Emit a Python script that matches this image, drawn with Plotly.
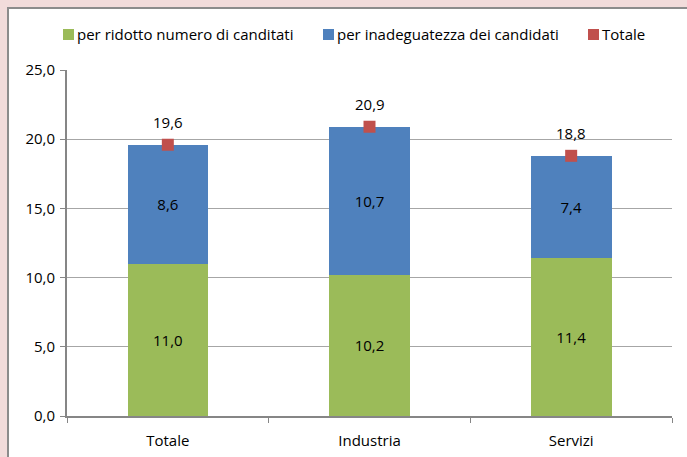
import plotly.graph_objects as go

categories = ["Totale", "Industria", "Servizi"]
ridotto_numero = [11.0, 10.2, 11.4]
inadeguatezza = [8.6, 10.7, 7.4]
totale = [19.6, 20.9, 18.8]

legend_names = ["per ridotto numero di canditati", "per inadeguatezza dei candidati", "Totale"]
colors = ["#9BBB59", "#4F81BD", "#C0504D"]
y_ticks = [0, 5, 10, 15, 20, 25]

FONT = "Open Sans"
FS = 15
W, H = 687, 457
ML, MR, MT, MB = 67, 15, 70, 41
PW, PH = W - ML - MR, H - MT - MB


def px_x(px):
    return (px - ML) / PW


def px_y(py):
    return (H - MB - py) / PH


fig = go.Figure()

fig.add_trace(go.Bar(
    x=categories, y=ridotto_numero, name=legend_names[0],
    marker=dict(color=colors[0], line=dict(width=0)),
    texttemplate="%{y:.1f}", textposition="inside", insidetextanchor="middle",
    textfont=dict(family=FONT, size=FS, color="#000000"),
    width=0.4, showlegend=False,
))
fig.add_trace(go.Bar(
    x=categories, y=inadeguatezza, name=legend_names[1],
    marker=dict(color=colors[1], line=dict(width=0)),
    texttemplate="%{y:.1f}", textposition="inside", insidetextanchor="middle",
    textfont=dict(family=FONT, size=FS, color="#000000"),
    width=0.4, showlegend=False,
))
fig.add_trace(go.Scatter(
    x=categories, y=totale, name=legend_names[2], mode="markers",
    marker=dict(symbol="square", size=12, color=colors[2]),
    showlegend=False, cliponaxis=False,
))

# value labels above the total markers
for c, v in zip(categories, totale):
    fig.add_annotation(
        x=c, y=v, text=f"{v:.1f}".replace(".", ","), showarrow=False,
        yshift=23, font=dict(family=FONT, size=FS, color="#000000"),
    )

# outer frame of the chart area on the pink background
shapes = [dict(
    type="rect", xref="paper", yref="paper", layer="below",
    x0=px_x(8), x1=px_x(W + 5), y0=px_y(H + 5), y1=px_y(8),
    fillcolor="#FFFFFF", line=dict(color="#8C8C8C", width=2),
)]

# legend drawn as swatches and labels across the top
legend_items = [(63, legend_names[0], colors[0]),
                (323, legend_names[1], colors[1]),
                (588, legend_names[2], colors[2])]
for x0, label, col in legend_items:
    shapes.append(dict(
        type="rect", xref="paper", yref="paper",
        x0=px_x(x0), x1=px_x(x0 + 11), y0=px_y(40), y1=px_y(29),
        fillcolor=col, line=dict(width=0),
    ))
    fig.add_annotation(
        xref="paper", yref="paper", x=px_x(x0 + 12), y=px_y(34),
        xanchor="left", yanchor="middle", text=label, showarrow=False,
        font=dict(family=FONT, size=FS, color="#000000"),
    )

fig.update_layout(
    width=W, height=H,
    margin=dict(l=ML, r=MR, t=MT, b=MB, pad=0, autoexpand=False),
    paper_bgcolor="#F2DCDB", plot_bgcolor="#FFFFFF",
    barmode="stack", bargap=0.6,
    separators=",.",
    shapes=shapes,
    font=dict(family=FONT, size=FS, color="#000000"),
    xaxis=dict(
        showline=True, linecolor="#868686", linewidth=2,
        ticks="outside", tickson="boundaries", ticklen=5, tickcolor="#868686",
        tickfont=dict(family=FONT, size=FS, color="#000000"),
        ticklabelstandoff=10, automargin=False,
        showgrid=False,
    ),
    yaxis=dict(
        range=[0, 25], tickvals=y_ticks, tickformat=".1f",
        showline=True, linecolor="#868686", linewidth=2,
        ticks="outside", ticklen=5, tickcolor="#868686",
        showgrid=True, gridcolor="#A6A6A6", gridwidth=1,
        zeroline=False, ticklabelstandoff=2, automargin=False,
        tickfont=dict(family=FONT, size=FS, color="#000000"),
    ),
)

fig.write_html("out.html")
